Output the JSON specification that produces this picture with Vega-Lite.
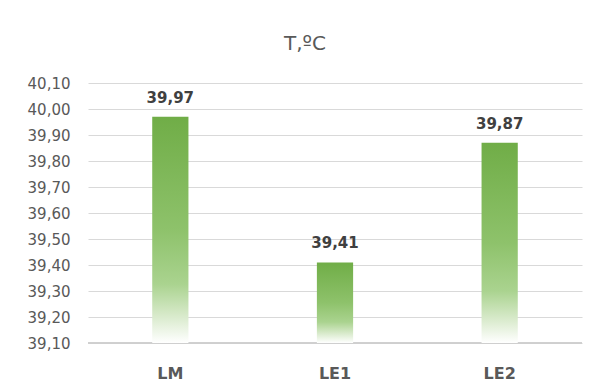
{
  "$schema": "https://vega.github.io/schema/vega-lite/v6.json",
  "width": 494,
  "height": 260,
  "autosize": {"type": "none"},
  "padding": {"left": 88, "top": 83, "right": 21, "bottom": 48},
  "background": "#ffffff",
  "title": {
    "text": "T,ºC",
    "anchor": "middle",
    "frame": "bounds",
    "font": "DejaVu Sans",
    "fontSize": 20,
    "fontWeight": "normal",
    "color": "#595959",
    "offset": 22
  },
  "data": {
    "values": [
      {"group": "LM", "temp": 39.97},
      {"group": "LE1", "temp": 39.41},
      {"group": "LE2", "temp": 39.87}
    ]
  },
  "encoding": {
    "x": {
      "field": "group",
      "type": "nominal",
      "sort": null,
      "scale": {"paddingInner": 0.78, "paddingOuter": 0.39},
      "axis": {
        "title": null,
        "labelAngle": 0,
        "ticks": false,
        "domain": false,
        "labelFont": "DejaVu Sans",
        "labelFontSize": 16,
        "labelFontWeight": "bold",
        "labelColor": "#595959",
        "labelPadding": 22
      }
    },
    "y": {
      "field": "temp",
      "type": "quantitative",
      "scale": {"domain": [39.1, 40.1], "zero": false, "nice": false},
      "axis": {
        "title": null,
        "values": [39.1, 39.2, 39.3, 39.4, 39.5, 39.6, 39.7, 39.8, 39.9, 40.0, 40.1],
        "labelExpr": "replace(format(datum.value, '.2f'), '.', ',')",
        "ticks": false,
        "domain": false,
        "grid": true,
        "gridColor": "#d9d9d9",
        "gridWidth": 1.2,
        "labelFont": "DejaVu Sans",
        "labelFontSize": 15,
        "labelColor": "#595959",
        "labelPadding": 18
      }
    }
  },
  "layer": [
    {
      "mark": {"type": "rule", "color": "#cfcfcf", "strokeWidth": 1.5},
      "encoding": {"y": {"datum": 39.1}, "x": null}
    },
    {
      "mark": {
        "type": "bar",
        "fill": {
          "gradient": "linear",
          "x1": 0, "y1": 0, "x2": 0, "y2": 1,
          "stops": [
            {"offset": 0, "color": "#70ad47"},
            {"offset": 0.5, "color": "#8ec26b"},
            {"offset": 0.74, "color": "#aad38f"},
            {"offset": 0.88, "color": "#d8eacb"},
            {"offset": 1, "color": "#ffffff"}
          ]
        }
      },
      "encoding": {"y2": {"datum": 39.1}}
    },
    {
      "mark": {
        "type": "text",
        "baseline": "alphabetic",
        "dy": -14,
        "font": "DejaVu Sans",
        "fontSize": 15,
        "fontWeight": "bold",
        "color": "#404040"
      },
      "encoding": {
        "text": {"field": "temp", "type": "quantitative", "format": ".2f"}
      }
    }
  ],
  "config": {
    "view": {"stroke": null},
    "locale": {"number": {"decimal": ",", "thousands": ".", "grouping": [3], "currency": ["", " €"]}}
  }
}
